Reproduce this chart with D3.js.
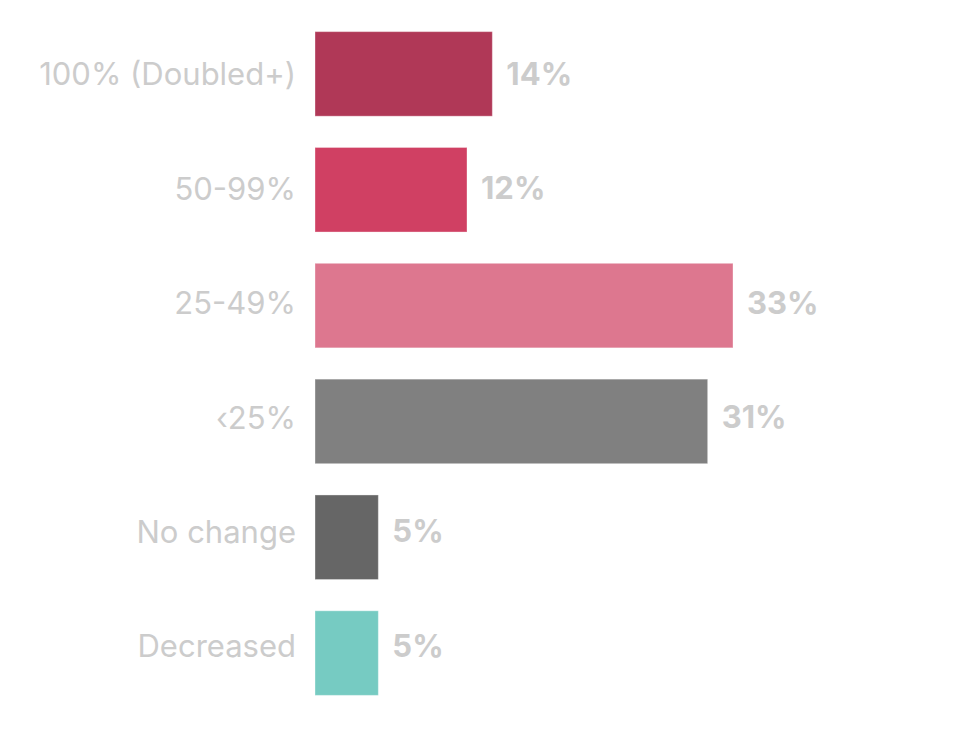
<!DOCTYPE html>
<html><head><meta charset="utf-8">
<script src="https://cdn.jsdelivr.net/npm/d3@7"></script>
<style>body{margin:0;background:#fff}svg{display:block}</style>
</head><body>
<svg id="c" width="976" height="730"></svg>
<script>
const categories = ["100% (Doubled+)", "50-99%", "25-49%", "‹25%", "No change", "Decreased"];
const values = [14, 12, 33, 31, 5, 5];
const colors = ["#b03857", "#d04063", "#dd778f", "#808080", "#666666", "#76cbc2"];

const svg = d3.select("#c");
const x = d3.scaleLinear().domain([0, 33]).range([315, 733]);
const y = d3.scaleBand().domain(categories).range([16, 711]).paddingInner(0.27).paddingOuter(0.135);
const yText = d3.scalePoint().domain(categories).range([74, 646]);

svg.selectAll("rect.bar").data(categories).join("rect")
  .attr("class","bar")
  .attr("x", x(0)).attr("y", d => y(d))
  .attr("width", (d,i) => x(values[i]) - x(0))
  .attr("height", y.bandwidth())
  .attr("fill", (d,i) => colors[i])
  .attr("stroke", "rgba(255,255,255,0.35)").attr("stroke-width", 1);

const axis = d3.axisLeft(yText).tickSize(0).tickPadding(19);
const g = svg.append("g").attr("transform", `translate(${x(0)},0)`).call(axis);
g.select(".domain").remove();
g.selectAll("text").attr("fill","#cccccc").style("font-family","Inter, 'Open Sans', sans-serif")
  .style("font-size","31px").style("font-weight","400").attr("dy","0.35em");

svg.selectAll("text.val").data(categories).join("text")
  .attr("class","val")
  .attr("x", (d,i) => x(values[i]) + 14)
  .attr("y", d => yText(d))
  .attr("dy","0.35em")
  .attr("fill","#cccccc")
  .style("font-family","Inter, 'Open Sans', sans-serif")
  .style("font-size","31px").style("font-weight","700")
  .text((d,i) => values[i] + "%");
</script>
</body></html>
